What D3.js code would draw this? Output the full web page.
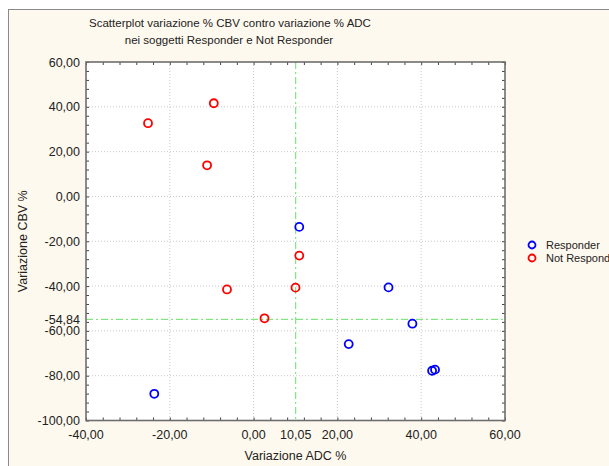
<!DOCTYPE html>
<html>
<head>
<meta charset="utf-8">
<script src="https://cdn.jsdelivr.net/npm/d3@7"></script>
<style>
  body { margin: 0; background: #fff; }
  svg text { font-family: "Liberation Sans", Arial, sans-serif; fill: #222; }
</style>
</head>
<body>
<svg id="chart"></svg>
<script>
// values
var responderX = [10.9, -23.7, 32.2, 37.9, 22.7, 42.6, 43.3];
var responderY = [-13.6, -88.1, -40.6, -56.8, -65.9, -77.8, -77.3];
var notResponderX = [-9.5, -25.2, -11.1, 10.9, -6.35, 10.0, 2.6];
var notResponderY = [41.6, 32.7, 13.9, -26.4, -41.5, -40.7, -54.4];
var xTicks = [-40, -20, 0, 20, 40, 60];
var yTicks = [60, 40, 20, 0, -20, -40, -60, -80, -100];
var refX = 10.05;
var refY = -54.84;
var seriesNames = ["Responder", "Not Responder"];
var seriesColors = ["#0000ff", "#ff0000"];

var outerWidth = 609;
var outerHeight = 466;
var margin = { top: 62, left: 86, right: 104, bottom: 45.5 };
var width = outerWidth - margin.left - margin.right;
var height = outerHeight - margin.top - margin.bottom;

var fmt = (v) => d3.format(".2f")(v).replace(".", ",").replace("−", "-");

var svg = d3.select("#chart").attr("width", outerWidth).attr("height", outerHeight);

// cream page with thin frame
svg.append("rect")
  .attr("x", 8.5).attr("y", 9.5)
  .attr("width", outerWidth).attr("height", outerHeight)
  .attr("fill", "#fef9ee")
  .attr("stroke", "#8a8a8a");

var x = d3.scaleLinear().domain([-40, 60]).range([0, width]);
var y = d3.scaleLinear().domain([-100, 60]).range([height, 0]);

var cg = svg.append("g")
  .attr("transform", "translate(" + margin.left + "," + margin.top + ")");

cg.append("rect").attr("width", width).attr("height", height).attr("fill", "#fff");

// grid
cg.append("g").selectAll("line").data(xTicks.slice(1, -1)).enter().append("line")
  .attr("x1", (d) => x(d)).attr("x2", (d) => x(d))
  .attr("y1", 0).attr("y2", height)
  .attr("stroke", "#c8c8c8").attr("stroke-dasharray", "1,2");
cg.append("g").selectAll("line").data(yTicks.slice(1, -1)).enter().append("line")
  .attr("y1", (d) => y(d)).attr("y2", (d) => y(d))
  .attr("x1", 0).attr("x2", width)
  .attr("stroke", "#c8c8c8").attr("stroke-dasharray", "1,2");

// reference lines
cg.append("line")
  .attr("x1", x(refX)).attr("x2", x(refX)).attr("y1", 0).attr("y2", height)
  .attr("stroke", "#66e066").attr("stroke-dasharray", "7,3,2,3");
cg.append("line")
  .attr("x1", 0).attr("x2", width).attr("y1", y(refY)).attr("y2", y(refY))
  .attr("stroke", "#66e066").attr("stroke-dasharray", "7,3,2,3");

// axes with inward ticks on all four sides
var minorX = d3.range(-40, 60.1, 4);
var minorY = d3.range(-100, 60.1, 4);
var axisColor = "#6e6e6e";

function tickAxis(axis, tr) {
  var g = cg.append("g").attr("transform", tr).call(axis);
  g.select(".domain").remove();
  g.selectAll("line").attr("stroke", "#444");
  g.selectAll("text").remove();
  return g;
}
tickAxis(d3.axisTop(x).tickValues(minorX).tickSize(3), `translate(0,${height})`);
tickAxis(d3.axisBottom(x).tickValues(minorX).tickSize(3), "translate(0,0)");
tickAxis(d3.axisRight(y).tickValues(minorY).tickSize(3), "translate(0,0)");
tickAxis(d3.axisLeft(y).tickValues(minorY).tickSize(3), `translate(${width},0)`);

cg.append("rect").attr("width", width).attr("height", height)
  .attr("fill", "none").attr("stroke", axisColor).attr("stroke-width", 1.6);

// tick labels
var xLabels = xTicks.concat([refX]);
cg.append("g").selectAll("text").data(xLabels).enter().append("text")
  .attr("x", (d) => x(d)).attr("y", height + 18)
  .attr("text-anchor", "middle").style("font-size", "12.5px")
  .text((d) => fmt(d));
var yLabels = yTicks.concat([refY]);
cg.append("g").selectAll("text").data(yLabels).enter().append("text")
  .attr("x", -6).attr("y", (d) => y(d) + 4.5)
  .attr("text-anchor", "end").style("font-size", "12.5px")
  .text((d) => fmt(d));

// points
var series = [
  { name: seriesNames[0], xs: responderX, ys: responderY, color: seriesColors[0] },
  { name: seriesNames[1], xs: notResponderX, ys: notResponderY, color: seriesColors[1] },
];
series.forEach((s) => {
  cg.append("g").selectAll("circle").data(s.xs).enter().append("circle")
    .attr("cx", (d) => x(d))
    .attr("cy", (d, i) => y(s.ys[i]))
    .attr("r", 4)
    .attr("fill", "none")
    .attr("stroke", s.color)
    .attr("stroke-width", 1.8);
});

// axis titles and chart title
svg.append("text")
  .attr("x", margin.left + width / 2).attr("y", 460)
  .attr("text-anchor", "middle").style("font-size", "12.5px")
  .text("Variazione ADC %");
svg.append("text")
  .attr("transform", `translate(27,${margin.top + height / 2}) rotate(-90)`)
  .attr("text-anchor", "middle").style("font-size", "12.5px")
  .text("Variazione CBV %");
svg.append("text")
  .attr("x", 230).attr("y", 27)
  .attr("text-anchor", "middle").style("font-size", "11.5px")
  .text("Scatterplot variazione % CBV contro variazione % ADC");
svg.append("text")
  .attr("x", 229).attr("y", 44)
  .attr("text-anchor", "middle").style("font-size", "11.5px")
  .text("nei soggetti Responder e Not Responder");

// legend
var legend = svg.append("g").attr("transform", "translate(532,245)");
series.forEach((s, i) => {
  legend.append("circle")
    .attr("cx", 0).attr("cy", i * 13).attr("r", 3.5)
    .attr("fill", "none").attr("stroke", s.color).attr("stroke-width", 1.8);
  legend.append("text")
    .attr("x", 14).attr("y", i * 13 + 4)
    .style("font-size", "11px")
    .text(s.name);
});
</script>
</body>
</html>
